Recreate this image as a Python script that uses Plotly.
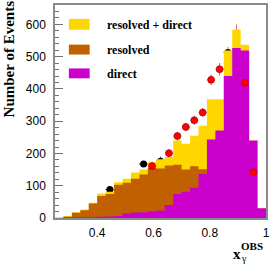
import plotly.graph_objects as go

# ---- data ----
bin_edges = [0.25, 0.28, 0.31, 0.34, 0.37, 0.40, 0.43, 0.46, 0.49, 0.52, 0.55, 0.58, 0.61,
             0.64, 0.67, 0.70, 0.73, 0.76, 0.79, 0.82, 0.85, 0.88, 0.91, 0.94, 0.97, 1.00]
resolved_plus_direct = [0, 6, 18, 26, 47, 76, 81, 111, 122, 141, 150, 173, 182,
                        189, 240, 230, 255, 286, 368, 368, 519, 583, 537, 240, 30]
resolved = [0, 4, 16, 24, 45, 68, 74, 103, 109, 122, 135, 155, 153,
            163, 165, 150, 160, 151, 125, 97, 79, 56, 18, 0, 0]
direct = [1, 2, 2, 2, 2, 4, 5, 6, 14, 17, 18, 21, 23,
          40, 74, 81, 94, 136, 243, 271, 440, 527, 519, 240, 30]

red_x = [0.595, 0.655, 0.685, 0.715, 0.745, 0.775, 0.805, 0.835, 0.925, 0.955]
red_y = [161, 201, 254, 282, 303, 327, 428, 461, 419, 142]
red_err = [11, 12, 13, 13, 14, 14, 16, 19, 0, 0]

black_x = [0.445, 0.565, 0.625, 0.865]
black_y = [88, 167, 176, 513]
black_err = [4, 9, 14, 6]

hidden_red_x = [0.865, 0.895]
hidden_red_y = [505, 568]
hidden_red_err = [25, 32]

legend_labels = ["resolved + direct", "resolved", "direct"]
colors = ["#ffd700", "#c06000", "#cc00cc"]

x_ticks = [0.4, 0.6, 0.8, 1.0]
x_ticktext = ["0.4", "0.6", "0.8", "1"]
y_ticks = [0, 100, 200, 300, 400, 500, 600]

# ---- figure ----
W, H = 273, 266
ML, MR, MT, MB = 55, 5, 3, 48
PW, PH = W - ML - MR, H - MT - MB


def px(xp):
    return (xp - ML) / PW


def py(yp):
    return (H - MB - yp) / PH


fig = go.Figure()

# points partly hidden behind histograms
fig.add_trace(go.Scatter(
    x=hidden_red_x, y=hidden_red_y, mode="markers",
    marker=dict(color="#ff0000", size=7),
    error_y=dict(type="data", array=hidden_red_err, color="#ff6060", thickness=1, width=0),
    showlegend=False))
fig.add_trace(go.Scatter(
    x=black_x, y=black_y, mode="markers",
    marker=dict(color="#000000", size=7),
    error_y=dict(type="data", array=black_err, color="#505050", thickness=1, width=0),
    error_x=dict(type="constant", value=0.016, color="#505050", thickness=1, width=0),
    showlegend=False))


def step_xy(vals):
    xs = list(bin_edges)
    ys = list(vals) + [vals[-1]]
    return xs, ys


for vals, col, name in zip([resolved_plus_direct, resolved, direct], colors, legend_labels):
    xs, ys = step_xy(vals)
    fig.add_trace(go.Scatter(
        x=xs, y=ys, mode="lines", line=dict(shape="hv", width=0, color=col),
        fill="tozeroy", fillcolor=col, name=name, showlegend=False))

fig.add_trace(go.Scatter(
    x=red_x, y=red_y, mode="markers",
    marker=dict(color="#ff0000", size=7, line=dict(color="#a00000", width=0.6)),
    error_y=dict(type="data", array=red_err, color="#707070", thickness=1, width=0),
    error_x=dict(type="constant", value=0.014, color="#707070", thickness=1, width=0),
    showlegend=False))

# legend drawn as swatches + text
sw_y = [(17, 28), (43, 53), (67, 77)]
txt_y = [23, 48, 72.5]
for (y0, y1), col, lab, ty in zip(sw_y, colors, legend_labels, txt_y):
    fig.add_shape(type="rect", xref="paper", yref="paper",
                  x0=px(69), x1=px(90), y0=py(y1), y1=py(y0),
                  fillcolor=col, line=dict(width=0))
    fig.add_annotation(xref="paper", yref="paper", x=px(105), y=py(ty),
                       xanchor="left", yanchor="middle", showarrow=False,
                       text="<b>%s</b>" % lab,
                       font=dict(family="Liberation Serif", size=12, color="black"))

# axis titles
fig.add_annotation(xref="paper", yref="paper", x=px(9), y=py(57.5),
                   xanchor="center", yanchor="middle", showarrow=False, textangle=-90,
                   text="<b>Number of Events</b>",
                   font=dict(family="Liberation Serif", size=15, color="black"))
fig.add_annotation(xref="paper", yref="paper", x=px(238.5), y=py(254),
                   xanchor="center", yanchor="middle", showarrow=False,
                   text="<b>x</b>", font=dict(family="Liberation Serif", size=15, color="black"))
fig.add_annotation(xref="paper", yref="paper", x=px(246), y=py(259),
                   xanchor="center", yanchor="middle", showarrow=False,
                   text="γ", font=dict(family="Liberation Serif", size=10, color="black"))
fig.add_annotation(xref="paper", yref="paper", x=px(254), y=py(246.5),
                   xanchor="center", yanchor="middle", showarrow=False,
                   text="<b>OBS</b>", font=dict(family="Liberation Serif", size=11, color="black"))

fig.update_layout(
    width=W, height=H,
    margin=dict(l=ML, r=MR, t=MT, b=MB),
    paper_bgcolor="white", plot_bgcolor="white",
    showlegend=False,
    xaxis=dict(range=[0.25, 1.0], tickvals=x_ticks, ticktext=x_ticktext,
               ticks="", showgrid=False, zeroline=False,
               showline=True, mirror=True, linecolor="#8a8a8a", linewidth=1.5,
               tickfont=dict(family="Liberation Sans", size=12, color="black"),
               ticklabelstandoff=3),
    yaxis=dict(range=[0, 660], tickvals=y_ticks, ticks="inside", ticklen=8,
               tickcolor="#707070", tickwidth=1,
               minor=dict(dtick=20, ticks="inside", ticklen=4, tickcolor="#707070", tickwidth=1),
               showgrid=False, zeroline=False,
               showline=True, mirror=True, linecolor="#8a8a8a", linewidth=1.5,
               tickfont=dict(family="Liberation Sans", size=12, color="black"),
               ticklabelstandoff=5),
)

fig.write_html("out.html", config={"displayModeBar": False},
               post_script="document.body.style.margin='0';document.body.style.overflow='hidden';")
